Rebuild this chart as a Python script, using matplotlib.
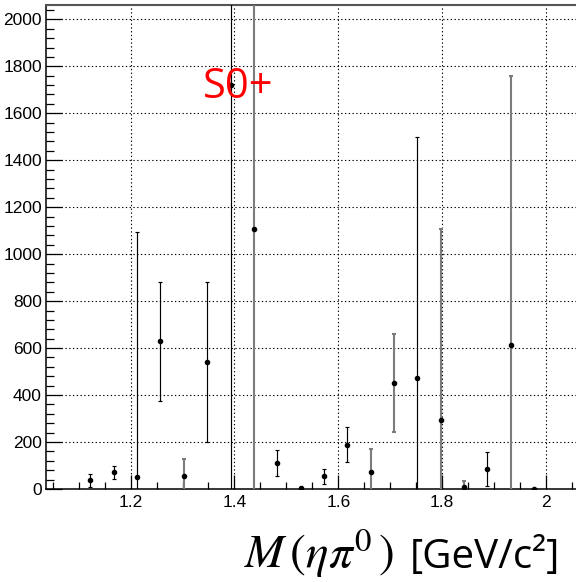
import matplotlib
matplotlib.use("Agg")
import matplotlib.pyplot as plt
from matplotlib.ticker import MultipleLocator

# eta pi0 invariant-mass spectrum, bin centres in GeV/c^2
mass = [1.1225, 1.1675, 1.2125, 1.2575, 1.3025, 1.3475, 1.3925, 1.4375,
        1.4825, 1.5275, 1.5725, 1.6175, 1.6625, 1.7075, 1.7525, 1.7975,
        1.8425, 1.8875, 1.9325, 1.9775]
counts = [37, 71, 50, 629, 57, 541, 1719, 1109, 111, 4, 54, 189, 72, 451,
          473, 292, 8, 86, 612, 1]
errors = [28, 29, 1045, 254, 69, 341, 1750, 1200, 54, 3, 33, 73, 98, 209,
          1025, 814, 27, 73, 1145, 0]
# bars that render as softer grey strokes
grey_bars = [4, 7, 12, 13, 15, 16, 18]

plt.rcParams['mathtext.fontset'] = 'stix'

fig = plt.figure(figsize=(5.76, 5.82), dpi=100)
ax = fig.add_axes([46 / 576, 93 / 582, 1 - 46 / 576, (489 - 5) / 582])

for i, (x, y, e) in enumerate(zip(mass, counts, errors)):
    if i in grey_bars:
        col, lw = '#7c7c7c', 1.5
    else:
        col, lw = 'black', 0.85
    ax.errorbar([x], [y], yerr=[e], fmt='none', ecolor=col, elinewidth=lw,
                capsize=1.6, capthick=lw, zorder=3)
ax.plot(mass, counts, 'o', color='black', ms=3.0, zorder=4, linestyle='none')

ax.set_xlim(1.037, 2.058)
ax.set_ylim(0, 2061)

ax.xaxis.set_major_locator(MultipleLocator(0.2))
ax.xaxis.set_minor_locator(MultipleLocator(0.05))
ax.yaxis.set_major_locator(MultipleLocator(200))
ax.yaxis.set_minor_locator(MultipleLocator(40))

ax.grid(True, which='major', color='black', linestyle=(0, (1.2, 2.2)),
        linewidth=0.8)

ax.tick_params(axis='x', which='major', direction='in', length=10, width=0.9,
               pad=4.5, top=False)
ax.tick_params(axis='x', which='minor', direction='in', length=5, width=0.9,
               top=False)
ax.tick_params(axis='y', which='major', direction='in', length=11.5,
               width=0.9, pad=3, right=False)
ax.tick_params(axis='y', which='minor', direction='in', length=5.8,
               width=0.9, right=False)

tick_family = ['Liberation Sans Narrow', 'Liberation Sans', 'DejaVu Sans']
for lab in ax.get_xticklabels() + ax.get_yticklabels():
    lab.set_family(tick_family)
    lab.set_fontsize(12.5)

ax.xaxis.set_major_formatter(plt.FuncFormatter(lambda v, p: f"{v:g}"))

ax.spines['right'].set_visible(False)
ax.spines['top'].set_color('#555555')
ax.spines['top'].set_linewidth(1.5)
ax.spines['left'].set_linewidth(1.1)
ax.spines['bottom'].set_linewidth(1.1)

fig.text(203 / 576, 1 - 98 / 582, 'S0+', color='red', fontsize=30,
         family=['Open Sans', 'DejaVu Sans'], va='baseline', ha='left',
         zorder=2)

# axis title: italic math symbol part and upright unit part
fig.text(394 / 576, 1 - 568 / 582, r'$M\,(\eta\pi^{0}\,)$', fontsize=34,
         va='baseline', ha='right')
fig.text(410 / 576, 1 - 568 / 582, '[GeV/c²]', fontsize=29,
         family=['Open Sans', 'DejaVu Sans'], va='baseline', ha='left')

fig.savefig('out.png', dpi=100)
